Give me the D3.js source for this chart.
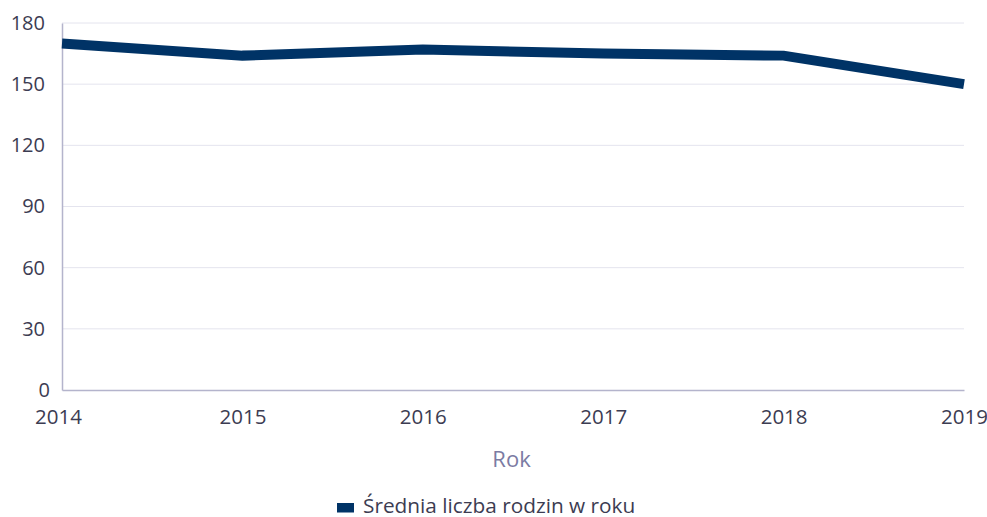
<!DOCTYPE html>
<html><head><meta charset="utf-8">
<script src="https://cdn.jsdelivr.net/npm/d3@7"></script>
<style>body{margin:0;background:#fff;} text{font-family:"Open Sans",sans-serif;}</style>
</head><body>
<svg id="c" width="987" height="517"></svg>
<script>
const years = ["2014","2015","2016","2017","2018","2019"];
const values = [170, 164, 167, 165, 164, 150];
const yTicks = [0, 30, 60, 90, 120, 150, 180];
const seriesName = "Średnia liczba rodzin w roku";
const axisTitle = "Rok";

const svg = d3.select("#c");
const m = {l: 62, r: 23, t: 23, b: 127};
const W = 987, H = 517;
const x = d3.scalePoint().domain(years).range([m.l, W - m.r]);
const y = d3.scaleLinear().domain([0, 180]).range([H - m.b, m.t]);

// gridlines
svg.append("g").selectAll("line").data(yTicks.filter(d => d > 0)).join("line")
  .attr("x1", m.l).attr("x2", W - m.r)
  .attr("y1", d => y(d)).attr("y2", d => y(d))
  .attr("stroke", "#e4e4ee").attr("stroke-width", 1);

// y axis
const ya = svg.append("g").attr("transform", `translate(${m.l},0)`)
  .call(d3.axisLeft(y).tickValues(yTicks).tickSize(0).tickPadding(17));
ya.select(".domain").attr("stroke", "#b4b4cc").attr("stroke-width", 1.5);
ya.selectAll("text").attr("font-size", 20).attr("fill", "#3c3c52");
ya.selectAll(".tick").filter(d => d === 0).select("text").attr("dx", 5);

// x axis
const xa = svg.append("g").attr("transform", `translate(0,${y(0)})`)
  .call(d3.axisBottom(x).tickSize(0).tickPadding(19));
xa.select(".domain").attr("stroke", "#b4b4cc").attr("stroke-width", 1.5);
xa.selectAll("text").attr("font-size", 20.5).attr("fill", "#3c3c52");
xa.selectAll(".tick").filter(d => d === "2014").select("text").attr("dx", -4);

// line
svg.append("path").datum(values)
  .attr("fill", "none").attr("stroke", "#003366").attr("stroke-width", 10)
  .attr("stroke-linejoin", "miter")
  .attr("d", d3.line().x((d, i) => x(years[i])).y(d => y(d)));

// axis title
svg.append("text").attr("x", 511.5).attr("y", 467)
  .attr("text-anchor", "middle").attr("font-size", 22).attr("fill", "#7b7ba3")
  .text(axisTitle);

// legend
const lg = svg.append("g");
lg.append("rect").attr("x", 337).attr("y", 503).attr("width", 17).attr("height", 9.5).attr("fill", "#003366");
lg.append("text").attr("x", 363).attr("y", 513).attr("font-size", 20.8).attr("fill", "#3c3c52").text(seriesName);
</script>
</body></html>
